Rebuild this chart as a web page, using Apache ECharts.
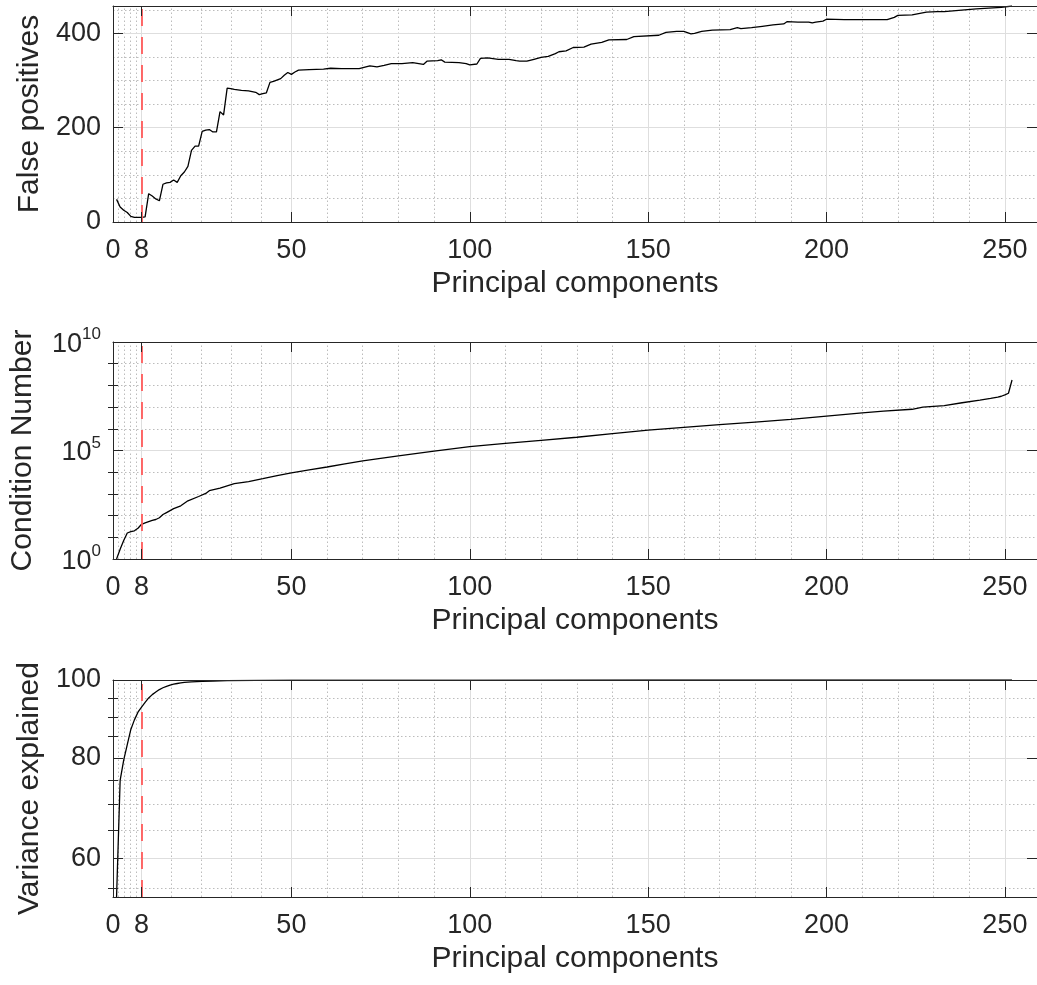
<!DOCTYPE html>
<html>
<head>
<meta charset="utf-8">
<script src="https://cdn.jsdelivr.net/npm/echarts@6/dist/echarts.min.js"></script>
<style>
  html, body { margin: 0; padding: 0; background: #ffffff; }
  #chart { width: 1037px; height: 985px; }
</style>
</head>
<body>
<div id="chart"></div>
<script>
// Number of principal components that were kept
const selectedPC = 8;

// Horizontal axis (shared by the three panels)
const xMax = 259;
const xMajorTicks = [0, 8, 50, 100, 150, 200, 250];
const xMinorTicks = [1.6, 3.2, 4.8, 6.4, 16.4, 24.8, 33.2, 41.6, 60, 70, 80, 90,
  110, 120, 130, 140, 160, 170, 180, 190, 210, 220, 230, 240];

// Panel 1: false positives per number of components
const fpComponents = [1, 2, 3, 4, 5, 6, 7, 8, 9, 10, 11, 12, 13, 14, 15, 16, 17, 18, 19, 20,
  21, 22, 23, 24, 25, 26, 27, 28, 29, 30, 31, 32, 33, 34, 36, 38, 40, 41, 42, 43,
  44, 45, 47, 48, 49, 50, 51, 52, 55, 59, 61, 64, 69, 72, 74, 76, 78, 81, 84, 87,
  88, 91, 92, 93, 97, 99, 100, 102, 103, 105, 108, 111, 113, 114, 116, 118, 120, 122, 124, 125,
  127, 129, 132, 134, 137, 139, 144, 146, 153, 155, 158, 160, 162, 163, 165, 168, 173, 175, 176, 179,
  182, 185, 188, 189, 192, 195, 196, 197, 199, 200, 205, 215, 217, 219, 220, 224, 228, 231, 233, 242,
  249, 252];
const falsePositives = [48, 32, 25, 20, 12, 10, 10, 10, 11, 60, 55, 49, 45, 80, 83, 84, 89, 84, 98, 106,
  118, 152, 161, 161, 192, 195, 196, 191, 191, 234, 227, 284, 283, 281, 279, 278, 275, 270, 272, 274,
  296, 298, 304, 311, 317, 313, 318, 322, 323, 324, 326, 325, 325, 331, 329, 332, 336, 336, 338, 334,
  341, 342, 344, 339, 338, 336, 333, 335, 347, 348, 345, 345, 342, 341, 341, 345, 349, 351, 357, 361,
  363, 370, 371, 377, 381, 386, 387, 393, 396, 402, 404, 404, 399, 400, 404, 407, 408, 412, 410, 412,
  415, 418, 420, 425, 424, 424, 422, 424, 426, 430, 429, 429, 429, 434, 438, 439, 445, 446, 446, 452,
  455, 458];
const fpMajorTicks = [0, 200, 400];
const fpMinorTicks = [50, 100, 150, 250, 300, 350, 450];

// Panel 2: condition number of the reduced covariance
const cnComponents = [1, 2, 3, 4, 5, 6, 7, 8, 9, 10, 11, 12, 13, 14, 15, 17, 19, 21, 24, 26,
  27, 30, 34, 38, 42, 46, 50, 55, 60, 65, 70, 75, 80, 90, 100, 110, 120, 130, 140, 150,
  160, 170, 180, 190, 200, 210, 216, 224, 227, 233, 238, 243, 246, 248, 249, 250, 251, 252];
const conditionNumber = [1, 2.8, 7.1, 15.8, 18.2, 20, 26.3, 39.8, 45.7, 52.5, 60.3, 66.1, 79.4, 112, 138,
  209, 282, 479, 759, 1047, 1413, 1862, 2951, 3715, 5012, 6918, 9333, 12880, 17380, 23990,
  33110, 43650, 56230, 93300, 151400, 213800, 295100, 407400, 602600, 871000, 1175000, 1549000,
  2042000, 2692000, 3802000, 5370000, 6457000, 7943000, 1.0e7, 1.175e7, 1.585e7, 2.089e7,
  2.512e7, 2.884e7, 3.162e7, 3.631e7, 4.365e7, 1.778e8];
const cnMajorTicks = [1, 1e5, 1e10];
const cnMinorTicks = [1e1, 1e2, 1e3, 1e4, 1e6, 1e7, 1e8, 1e9];

// Panel 3: cumulative variance explained (%)
const veComponents = [1, 2, 3, 4, 5, 6, 7, 8, 9, 10, 11, 12, 13, 14, 15, 16, 17, 18, 19, 20,
  22, 25, 28, 32, 40, 50, 70, 100, 150, 200, 252];
const varianceExplained = [53.7, 75.0, 79.5, 83.1, 86.8, 89.2, 91.2, 92.5, 93.8, 95.0, 95.9, 96.6, 97.3,
  97.8, 98.2, 98.55, 98.8, 99.0, 99.15, 99.3, 99.45, 99.6, 99.7, 99.8, 99.88, 99.93, 99.97,
  99.99, 99.995, 99.998, 100];
const veMajorTicks = [60, 80, 100];
const veMinorTicks = [55, 65, 70, 75, 85, 90, 95];

const FONT = '"Liberation Sans", Arial, Helvetica, sans-serif';
const INK = '#262626';
const MAJOR_GRID = '#dedede';
const MINOR_GRID = '#bcbcbc';
const MARKER_RED = '#ff5a5a';

const zip = (xs, ys) => xs.map((x, i) => [x, ys[i]]);

const panels = [
  {
    top: 6, height: 216, type: 'value', min: 0, max: Math.max(...falsePositives),
    major: fpMajorTicks, minor: fpMinorTicks, minorTickMarks: false,
    name: 'False positives', nameGap: 65,
    data: zip(fpComponents, falsePositives),
    label: v => String(v)
  },
  {
    top: 342, height: 217, type: 'log', min: 1, max: 1e10,
    major: cnMajorTicks, minor: cnMinorTicks, minorTickMarks: true,
    name: 'Condition Number', nameGap: 75,
    data: zip(cnComponents, conditionNumber),
    label: v => '{b|10}{s|' + Math.round(Math.log10(v)) + '}'
  },
  {
    top: 680, height: 217, type: 'log', min: Math.min(...varianceExplained), max: 100,
    major: veMajorTicks, minor: veMinorTicks, minorTickMarks: true,
    name: 'Variance explained', nameGap: 65,
    data: zip(veComponents, varianceExplained),
    label: v => String(v)
  }
];

const grids = [], xAxes = [], yAxes = [], series = [];

panels.forEach((p, i) => {
  grids.push({ left: 113, width: 930, top: p.top, height: p.height });

  const xBase = {
    type: 'value', gridIndex: i, min: 0, max: xMax, z: 20,
    axisLine: { show: true, onZero: false, lineStyle: { color: INK, width: 1 } },
    splitLine: { show: false }
  };
  // bottom axis with labels and title
  xAxes.push(Object.assign({}, xBase, {
    position: 'bottom',
    axisTick: { show: true, inside: true, length: 10, customValues: xMajorTicks, lineStyle: { color: INK } },
    axisLabel: {
      customValues: xMajorTicks, fontSize: 27, color: INK, fontFamily: FONT, margin: 15
    },
    name: 'Principal components', nameLocation: 'middle', nameGap: 47,
    nameTextStyle: { fontSize: 30, color: INK, fontFamily: FONT }
  }));
  // top frame edge
  xAxes.push(Object.assign({}, xBase, {
    position: 'top',
    axisTick: { show: true, inside: true, length: 10, customValues: xMajorTicks, lineStyle: { color: INK } },
    axisLabel: { show: false }
  }));

  const yBase = {
    type: p.type, gridIndex: i, min: p.min, max: p.max, z: 20,
    splitLine: { show: false }
  };
  const yIdx0 = yAxes.length;
  // left axis with labels and title
  yAxes.push(Object.assign({}, yBase, {
    position: 'left',
    axisLine: { show: true, onZero: false, lineStyle: { color: INK, width: 1 } },
    axisTick: { show: true, inside: true, length: 10, customValues: p.major, lineStyle: { color: INK } },
    axisLabel: {
      customValues: p.major, formatter: p.label, fontSize: 27, color: INK, fontFamily: FONT, margin: 12,
      rich: {
        b: { fontSize: 27, color: INK, fontFamily: FONT, verticalAlign: 'bottom' },
        s: { fontSize: 17, color: INK, fontFamily: FONT, verticalAlign: 'bottom', padding: [0, 0, 15, 0] }
      }
    },
    name: p.name, nameLocation: 'middle', nameRotate: 90, nameGap: p.nameGap,
    nameTextStyle: { fontSize: 30, color: INK, fontFamily: FONT }
  }));
  // right frame edge
  yAxes.push(Object.assign({}, yBase, {
    position: 'right',
    axisLine: { show: true, onZero: false, lineStyle: { color: INK, width: 1 } },
    axisTick: { show: true, inside: true, length: 10, customValues: p.major, lineStyle: { color: INK } },
    axisLabel: { show: false }
  }));
  if (p.minorTickMarks) {
    ['left', 'right'].forEach(pos => {
      yAxes.push(Object.assign({}, yBase, {
        position: pos,
        axisLine: { show: false },
        axisTick: { show: true, inside: true, length: 5, customValues: p.minor, lineStyle: { color: INK } },
        axisLabel: { show: false }
      }));
    });
  }

  const xIdx = i * 2;
  const solid = { color: MAJOR_GRID, width: 1, type: 'solid' };
  const dotted = { color: MINOR_GRID, width: 1, type: [1.5, 2.5] };
  const gridLines = []
    .concat(xMinorTicks.map(v => ({ xAxis: v, lineStyle: dotted })))
    .concat(p.minor.map(v => ({ yAxis: v, lineStyle: dotted })))
    .concat(xMajorTicks.map(v => ({ xAxis: v, lineStyle: solid })))
    .concat(p.major.map(v => ({ yAxis: v, lineStyle: solid })));

  // grid lines, drawn beneath the curve
  series.push({
    type: 'line', xAxisIndex: xIdx, yAxisIndex: yIdx0, data: p.data,
    showSymbol: false, silent: true, z: 1,
    lineStyle: { opacity: 0 },
    markLine: {
      silent: true, symbol: ['none', 'none'], label: { show: false }, animation: false, z: 1,
      data: gridLines
    }
  });

  // the curve
  series.push({
    type: 'line', xAxisIndex: xIdx, yAxisIndex: yIdx0, data: p.data,
    showSymbol: false, silent: true, z: 10, animation: false,
    color: '#000000',
    lineStyle: { color: '#000000', width: 1.3 }
  });

  // dashed marker at the selected number of components
  series.push({
    type: 'line', xAxisIndex: xIdx, yAxisIndex: yIdx0, data: p.data,
    showSymbol: false, silent: true, z: 12, animation: false,
    color: MARKER_RED,
    itemStyle: { color: MARKER_RED },
    lineStyle: { opacity: 0 },
    markLine: {
      silent: true, symbol: ['none', 'none'], label: { show: false }, animation: false, z: 12,
      itemStyle: { color: MARKER_RED },
      lineStyle: { color: MARKER_RED, width: 1.8, type: [17, 11], opacity: 1 },
      data: [{ xAxis: selectedPC }]
    }
  });
});

const chart = echarts.init(document.getElementById('chart'), null, { renderer: 'canvas' });
chart.setOption({
  animation: false,
  backgroundColor: '#ffffff',
  grid: grids,
  xAxis: xAxes,
  yAxis: yAxes,
  series: series
});
</script>
</body>
</html>
